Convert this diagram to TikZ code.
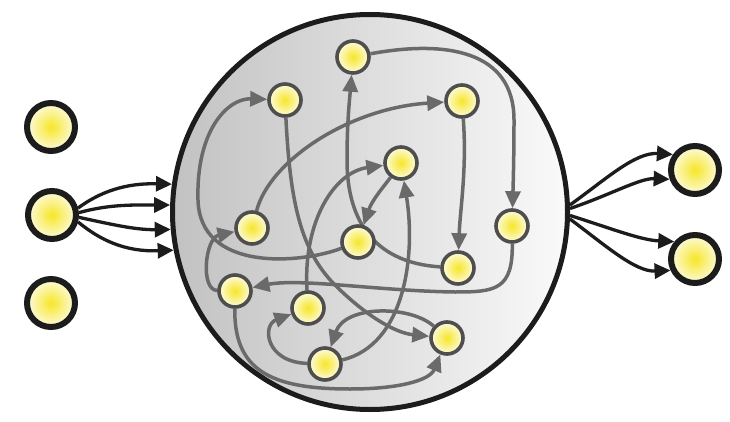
\documentclass[tikz,border=0pt]{standalone}
\usetikzlibrary{arrows.meta}
\pgfdeclarelayer{bg}
\pgfdeclarelayer{edges}
\pgfsetlayers{bg,edges,main}
\definecolor{ycore}{RGB}{246,230,40}
\definecolor{yedge}{RGB}{253,251,222}
\definecolor{flowgray}{RGB}{106,106,106}
\definecolor{ringgray}{RGB}{78,78,78}
\definecolor{darkring}{RGB}{28,28,28}
\begin{document}
\begin{tikzpicture}[x=1pt,y=-1pt,
  cellnode/.style={circle,minimum size=32pt,inner sep=0pt,line width=3.6pt,draw=ringgray,inner color=ycore,outer color=yedge},
  outnode/.style={circle,minimum size=48pt,inner sep=0pt,line width=6pt,draw=darkring,inner color=ycore,outer color=yedge},
  cellbody/.style={circle,minimum size=395pt,inner sep=0pt,line width=5pt,draw=darkring,left color=black!24,right color=black!2},
  flow/.style={draw=flowgray,line width=3.5pt,-{Triangle[length=17pt 0 0,width=15pt 0 0]}},
  iolink/.style={draw=darkring,line width=3.3pt,-{Triangle[length=16pt 0 0,width=15pt 0 0]}}]
\useasboundingbox (0,0) rectangle (730,422);
\begin{pgfonlayer}{bg}
\fill[white] (0,0) rectangle (730,422);
\node[cellbody] (cell) at (370,212) {};
\end{pgfonlayer}
% outside nodes
\node[outnode] (L1) at (51,127) {};
\node[outnode] (L2) at (52,215) {};
\node[outnode] (L3) at (51,303) {};
\node[outnode] (R1) at (695,170) {};
\node[outnode] (R2) at (695,259) {};
% inner nodes
\node[cellnode] (A) at (285,100) {};
\node[cellnode] (B) at (353,57) {};
\node[cellnode] (C) at (462,101) {};
\node[cellnode] (D) at (401,163) {};
\node[cellnode] (E) at (252,228) {};
\node[cellnode] (F) at (358,242) {};
\node[cellnode] (G) at (512,226) {};
\node[cellnode] (H) at (458,268) {};
\node[cellnode] (I) at (235,291) {};
\node[cellnode] (J) at (308,308) {};
\node[cellnode] (K) at (325,364) {};
\node[cellnode] (L) at (447,338) {};
\begin{pgfonlayer}{edges}
% inputs
\draw[iolink] (L2.15) .. controls (100,192) and (125,183) .. (cell.172);
\draw[iolink] (L2.5) .. controls (110,204) and (135,205) .. (cell.178);
\draw[iolink] (L2.-5) .. controls (110,224) and (135,230) .. (cell.185);
\draw[iolink] (L2.-15) .. controls (100,240) and (125,252) .. (cell.191);
% outputs
\draw[iolink] (cell.2) .. controls (605,180) and (635,152) .. (R1.145);
\draw[iolink] (cell.1) .. controls (610,195) and (640,178) .. (R1.200);
\draw[iolink] (cell.-1) .. controls (610,228) and (640,240) .. (R2.140);
\draw[iolink] (cell.-2) .. controls (605,245) and (635,272) .. (R2.205);
% internal network
\draw[flow] (F) .. controls (300,264) and (200,272) .. (198,200) .. controls (196,130) and (228,98) .. (A);
\draw[flow] (H) .. controls (378,263) and (347,225) .. (347,160) .. controls (347,120) and (350,95) .. (B);
\draw[flow] (B) .. controls (445,40) and (514,50) .. (514,120) .. controls (514,160) and (513,190) .. (G);
\draw[flow] (E) .. controls (270,160) and (350,108) .. (C);
\draw[flow] (C) .. controls (467,170) and (460,210) .. (H);
\draw[flow] (J) .. controls (303,220) and (335,172) .. (D);
\draw[flow] (D) .. controls (385,185) and (372,200) .. (F);
\draw[flow] (A) .. controls (290,200) and (300,250) .. (335,285) .. controls (365,315) and (395,333) .. (L);
\draw[flow] (K) .. controls (265,362) and (262,325) .. (J);
\draw[flow] (L) .. controls (410,305) and (345,305) .. (K);
\draw[flow] (I) .. controls (234,370) and (270,389) .. (350,389) .. controls (400,389) and (430,380) .. (L);
\draw[flow] (K) .. controls (405,345) and (416,255) .. (D);
\draw[flow] (I) .. controls (200,290) and (205,238) .. (E);
\draw[flow] (G) .. controls (513,290) and (495,292) .. (455,292) .. controls (380,291) and (300,278) .. (I);
\end{pgfonlayer}
\end{tikzpicture}
\end{document}
